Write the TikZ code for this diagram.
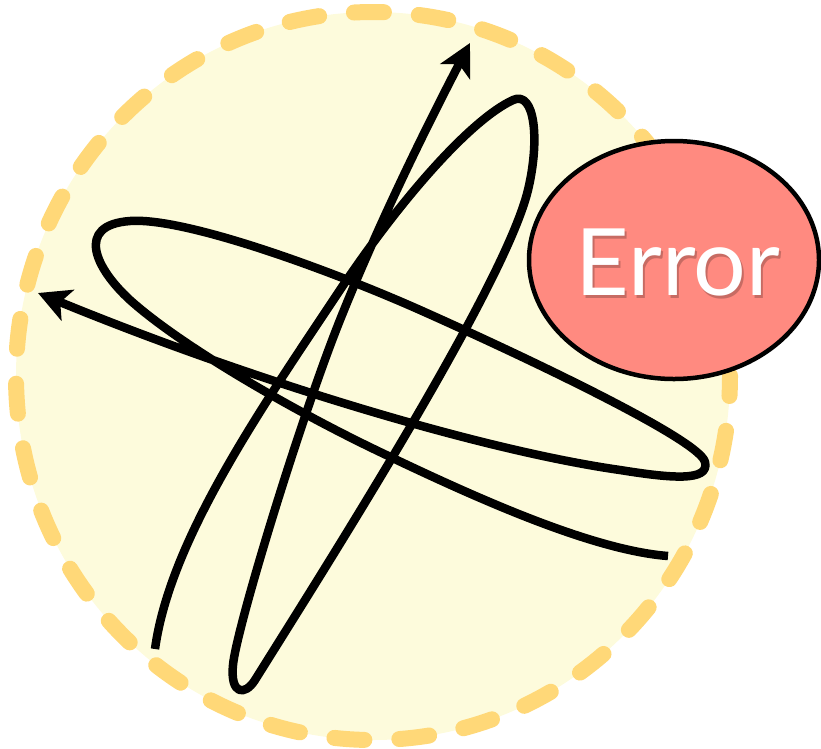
\documentclass[tikz,border=0pt]{standalone}
\usepackage{fontspec}
\newfontfamily\errfont{Lato}
\usetikzlibrary{arrows.meta,shapes.geometric}
\definecolor{cream}{RGB}{253,251,220}
\definecolor{dashy}{RGB}{255,216,120}
\definecolor{salmon}{RGB}{255,138,128}
\tikzset{
  scribble/.style={line width=8.5pt, line join=round},
  tip/.style={-{Stealth[length=32pt,width=33pt,inset=8pt]}},
  errlabel/.style={anchor=base, font=\errfont\fontsize{93}{93}\selectfont},
}
\begin{document}
\begin{tikzpicture}[x=1pt,y=-1pt]
\useasboundingbox (0,0) rectangle (821,748);
% dashed disc
\draw[fill=cream, draw=dashy, line width=16pt, line cap=round,
      dash pattern=on 30pt off 35pt, dash phase=10pt]
  (373,376) ellipse[x radius=357, y radius=364];
% curve A (vertical lasso)
\coordinate (a0) at (155,649);
\coordinate (a1) at (513,100);
\coordinate (a2) at (528,190);
\coordinate (a3) at (255,680);
\coordinate (a4) at (233,665);
\coordinate (a5) at (340,320);
\coordinate (a6) at (470,43);
\draw[scribble, tip]
  (a0) .. controls (170,540) and (260,410) .. (340,290)
       .. controls (400,200) and (470,120) .. (a1)
       .. controls (535,90) and (540,140) .. (a2)
       .. controls (505,285) and (330,560) .. (a3)
       .. controls (245,696) and (230,695) .. (a4)
       .. controls (236,630) and (300,420) .. (a5)
       .. controls (380,220) and (430,120) .. (a6);
% curve B (horizontal lasso)
\coordinate (b0) at (668,556);
\coordinate (b1) at (380,452);
\coordinate (b2) at (130,300);
\coordinate (b3) at (130,221);
\coordinate (b4) at (420,310);
\coordinate (b5) at (705,462);
\coordinate (b6) at (620,470);
\coordinate (b7) at (38,293);
\draw[scribble, tip]
  (b0) .. controls (590,550) and (470,495) .. (b1)
       .. controls (290,409) and (180,345) .. (b2)
       .. controls (95,268) and (75,225) .. (b3)
       .. controls (185,217) and (330,270) .. (b4)
       .. controls (530,359) and (700,440) .. (b5)
       .. controls (710,482) and (670,478) .. (b6)
       .. controls (480,450) and (250,380) .. (b7);
% Error ellipse
\node[ellipse, draw=black, line width=4.5pt, fill=salmon,
      minimum width=290pt, minimum height=238pt, inner sep=0pt] (err) at (674,260) {};
\node[errlabel, text=black, opacity=0.22] (errshadow) at (680,298) {Error};
\node[errlabel, text=white] (errtext) at (678,295) {Error};
\end{tikzpicture}
\end{document}
